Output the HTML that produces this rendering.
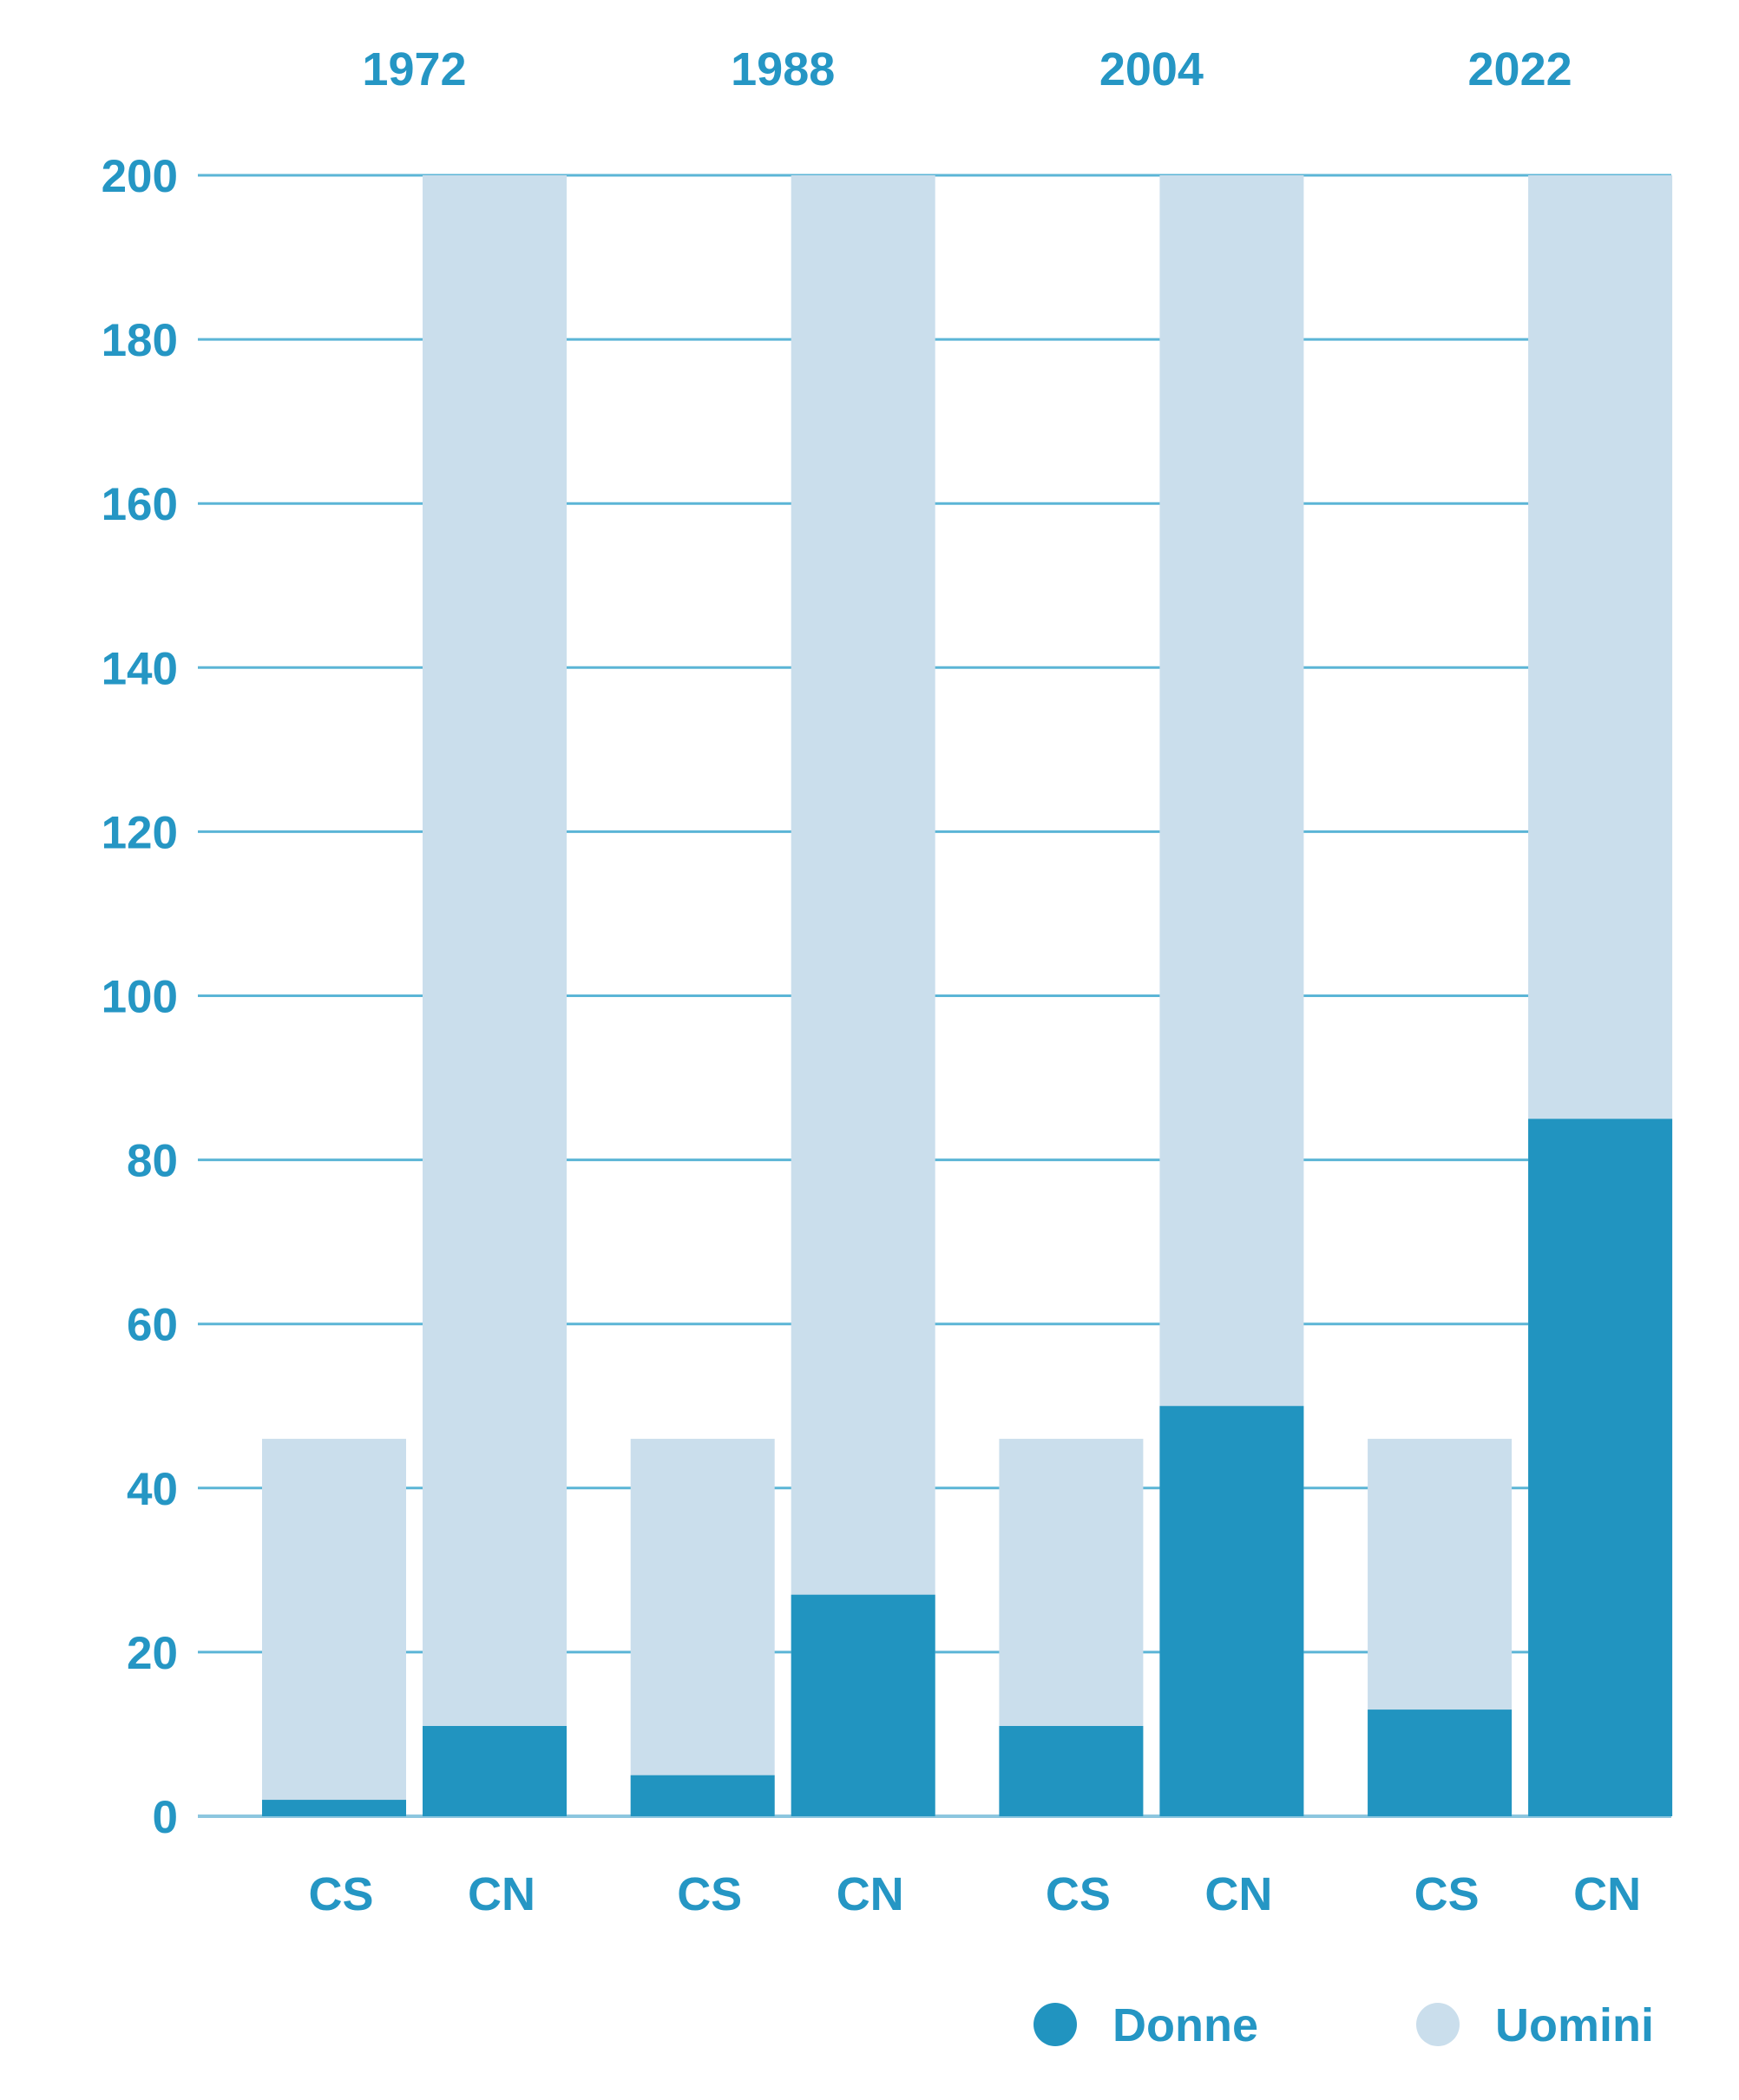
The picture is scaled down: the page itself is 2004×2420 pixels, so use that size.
<!DOCTYPE html>
<html><head><meta charset="utf-8"><style>
html,body{margin:0;padding:0;background:#fff;}
svg text{font-family:"Liberation Sans",Arial,sans-serif;font-weight:bold;fill:#2596c4;}
</style></head><body>
<svg id="chart" width="2004" height="2415" viewBox="0 0 2004 2415" xmlns="http://www.w3.org/2000/svg">
<g id="grid"></g>
<g id="ylabels"></g>
<g id="bars"></g>
<g id="xlabels"></g>
<g>
  <circle cx="1216" cy="2333" r="25" fill="#2194c0"/>
  <text x="1282" y="2352" font-size="54">Donne</text>
  <circle cx="1657" cy="2333" r="25" fill="#cadeec"/>
  <text x="1723" y="2352" font-size="54">Uomini</text>
</g>
</svg>
<script>
const years = ["1972","1988","2004","2022"];
const categories = ["CS","CN"];
const totals = [[46,200],[46,200],[46,200],[46,200]];
const donne = [[2,11],[5,27],[11,50],[13,85]];
const yTicks = [0,20,40,60,80,100,120,140,160,180,200];

const NS="http://www.w3.org/2000/svg";
const x0=228,x1=1926,yZero=2093,yTop=202,yMax=200;
const y=v=>yZero-(v/yMax)*(yZero-yTop);
const groupStart=302,groupStep=424.7,barW=166,barGap=19;
const bx=(g,c)=>groupStart+g*groupStep+c*(barW+barGap);
function mk(tag,attrs,parent){const e=document.createElementNS(NS,tag);for(const k in attrs)e.setAttribute(k,attrs[k]);parent.appendChild(e);return e;}

const grid=document.getElementById('grid'),yl=document.getElementById('ylabels');
yTicks.forEach(t=>{
  const l=mk('line',{x1:x0,x2:x1,y1:y(t),y2:y(t),stroke:t===0?'#8cc6df':'#5bb5d6','stroke-width':t===0?4:3},grid);
  
  
  const tx=mk('text',{x:205,y:y(t)+19,'text-anchor':'end','font-size':53},yl);
  tx.textContent=t;
  
  
});
const bars=document.getElementById('bars'),xl=document.getElementById('xlabels');
years.forEach((yr,g)=>{
  const yt=mk('text',{x:bx(g,0)+barW+barGap/2,y:98,'text-anchor':'middle','font-size':54},xl);
  yt.textContent=yr;
  
  
  categories.forEach((c,ci)=>{
    const x=bx(g,ci);
    const u=mk('rect',{x:x,y:y(totals[g][ci]),width:barW,height:y(0)-y(totals[g][ci]),fill:'#cadeec'},bars);
    
    
    const d=mk('rect',{x:x,y:y(donne[g][ci]),width:barW,height:y(0)-y(donne[g][ci]),fill:'#2194c0'},bars);
    
    
    const t=mk('text',{x:x+barW/2+8,y:2201,'text-anchor':'middle','font-size':54},xl);
    t.textContent=c;
    
    
  });
});
</script>
</body></html>
